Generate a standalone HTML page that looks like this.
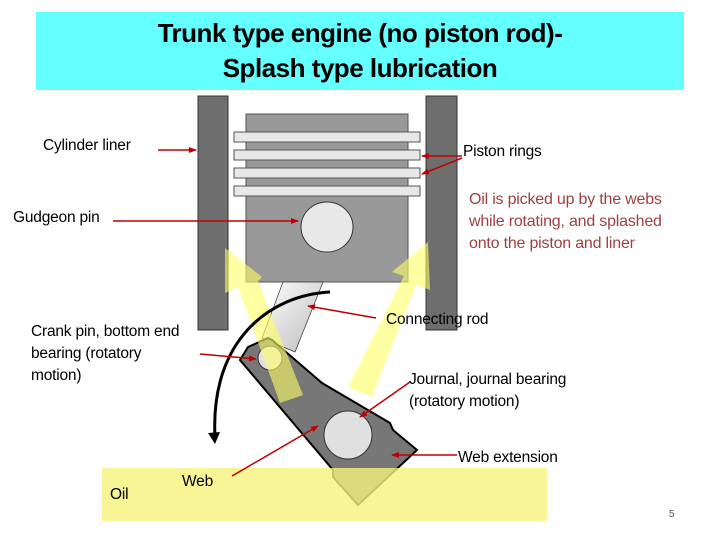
<!DOCTYPE html>
<html><head><style>
body{margin:0;background:#fff}
.w{position:relative;width:720px;height:540px;overflow:hidden;font-family:"Liberation Sans",sans-serif}
.t{position:absolute;font-size:15.5px;color:#000;white-space:nowrap;line-height:22px;letter-spacing:-0.2px}
</style></head><body><div class="w">
<div style="position:absolute;left:36px;top:12px;width:648px;height:78px;background:#66ffff"></div>
<div style="position:absolute;left:36px;top:16px;width:648px;text-align:center;font-size:26px;line-height:35px;font-weight:bold;letter-spacing:-0.5px">Trunk type engine (no piston rod)-<br>Splash type lubrication</div>
<svg width="720" height="540" style="position:absolute;left:0;top:0">
<defs><marker id="a" markerWidth="8" markerHeight="8" refX="7" refY="4" orient="auto" markerUnits="userSpaceOnUse"><path d="M0,1 L8,4 L0,7z" fill="#c00000"/></marker>
<linearGradient id="g" x1="0" y1="0" x2="1" y2="1"><stop offset="0" stop-color="#fff"/><stop offset="1" stop-color="#bbb"/></linearGradient></defs>
<rect x="198" y="96" width="30" height="234" fill="#6e6e6e" stroke="#333"/>
<rect x="426" y="96" width="31" height="234" fill="#6e6e6e" stroke="#333"/>
<rect x="246" y="114" width="162" height="168" fill="#999" stroke="#555"/>
<g fill="#e8e8e8" stroke="#555"><rect x="234" y="132" width="186" height="10"/><rect x="234" y="150" width="186" height="10"/><rect x="234" y="168" width="186" height="10"/><rect x="234" y="186" width="186" height="10"/></g>
<ellipse cx="327" cy="227" rx="26" ry="25" fill="#e8e8e8" stroke="#333"/>
<path d="M283,282 L323,282 L295,352 L262,338Z" fill="url(#g)" stroke="#333" stroke-width="0.7"/>
<path d="M240,360 L248,347 L268,338 L272,340 L322,383 L390,423 L393,430 L417,450 L358,505 L333,477 L333,470Z" fill="#777" stroke="#000" stroke-width="2"/>
<circle cx="270" cy="358" r="12" fill="#e0e0e0" stroke="#333"/>
<circle cx="348" cy="435" r="24" fill="#e0e0e0" stroke="#333"/>
<rect x="102" y="468" width="445" height="53" fill="#f5f27a" opacity="0.8"/>
<g fill="#ffff66" opacity="0.6">
<path d="M280,403 L303,395 L258,281 L262,277 L225,248 L225,293 L238,287 Z"/>
<path d="M348,387 L372,397 L416,285 L430,290 L428,242 L392,272 L404,276 Z"/>
</g>
<path d="M330,292 C270,295 210,340 215,437" fill="none" stroke="#000" stroke-width="3"/>
<path d="M208,433 L215,444 L220,432Z" fill="#000"/>
<g stroke="#c00000" stroke-width="1.5" fill="none" marker-end="url(#a)">
<line x1="158" y1="150" x2="196" y2="150"/>
<line x1="113" y1="221" x2="298" y2="221"/>
<line x1="462" y1="156" x2="422" y2="156"/>
<line x1="462" y1="158" x2="422" y2="174"/>
<line x1="376" y1="318" x2="308" y2="306"/>
<line x1="200" y1="354" x2="256" y2="359"/>
<line x1="410" y1="382" x2="360" y2="417"/>
<line x1="457" y1="455" x2="392" y2="455"/>
<line x1="232" y1="476" x2="318" y2="426"/>
</g>
</svg>
<div class="t" style="left:43px;top:135px">Cylinder liner</div>
<div class="t" style="left:463px;top:141px">Piston rings</div>
<div class="t" style="left:13px;top:207px">Gudgeon pin</div>
<div class="t" style="left:469px;top:189px;color:#a04040;font-size:16px">Oil is picked up by the webs<br>while rotating, and splashed<br>onto the piston and liner</div>
<div class="t" style="left:31px;top:321px">Crank pin, bottom end<br>bearing (rotatory<br>motion)</div>
<div class="t" style="left:386px;top:309px">Connecting rod</div>
<div class="t" style="left:409px;top:369px">Journal, journal bearing<br>(rotatory motion)</div>
<div class="t" style="left:458px;top:447px">Web extension</div>
<div class="t" style="left:182px;top:471px">Web</div>
<div class="t" style="left:110px;top:484px">Oil</div>
<div class="t" style="left:669px;top:504px;font-size:10px;color:#555">5</div>
</div></body></html>
